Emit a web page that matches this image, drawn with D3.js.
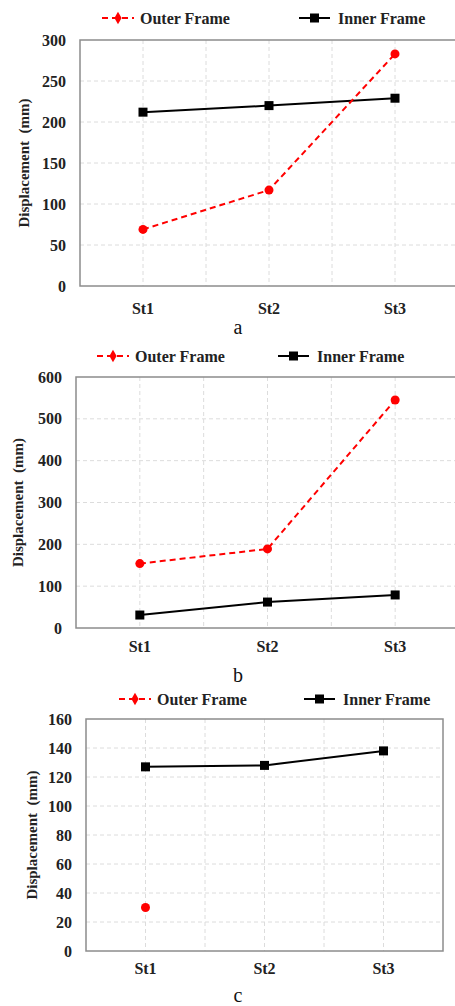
<!DOCTYPE html>
<html><head><meta charset="utf-8">
<script src="https://cdn.jsdelivr.net/npm/d3@7"></script>
<style>
html,body{margin:0;padding:0;background:#fff;}
svg{display:block;}
</style></head>
<body>
<svg id="chart" width="455" height="1006"></svg>
<script>
const categories = ["St1","St2","St3"];
const seriesNames = ["Outer Frame","Inner Frame"];
// panel a
const outerA = [69, 117, 283];
const innerA = [212, 220, 229];
const ticksA = [0, 50, 100, 150, 200, 250, 300];
// panel b
const outerB = [154, 189, 545];
const innerB = [31, 62, 79];
const ticksB = [0, 100, 200, 300, 400, 500, 600];
// panel c
const outerC = [30, null, null];
const innerC = [127, 128, 138];
const ticksC = [0, 20, 40, 60, 80, 100, 120, 140, 160];
const panelLabels = ["a","b","c"];
const yTitle = "Displacement  (mm)";

const FONT = "'Liberation Serif', 'Times New Roman', 'DejaVu Serif', serif";

const panels = [
  {outer: outerA, inner: innerA, ticks: ticksA, label: panelLabels[0],
   left: 80, right: 458, top: 40, bottom: 286, tickX: 66, titleX: 24,
   legY: 18, leg1: 102, leg2: 299, xLabY: 310, labY: 327},
  {outer: outerB, inner: innerB, ticks: ticksB, label: panelLabels[1],
   left: 76, right: 459, top: 377, bottom: 628, tickX: 62, titleX: 18,
   legY: 356, leg1: 97, leg2: 278, xLabY: 648, labY: 675},
  {outer: outerC, inner: innerC, ticks: ticksC, label: panelLabels[2],
   left: 86, right: 443, top: 719, bottom: 951, tickX: 72, titleX: 32,
   legY: 699, leg1: 119, leg2: 304, xLabY: 970, labY: 995}
];

const svg = d3.select("#chart");
const red = "#ff0000";

function txt(sel, size, bold) {
  return sel.style("font-family", FONT).style("font-size", size + "px")
    .style("font-weight", bold ? "bold" : "normal");
}

panels.forEach(p => {
  const g = svg.append("g");
  const x = d3.scaleBand().domain(categories).range([p.left, p.right]).padding(0);
  const y = d3.scaleLinear().domain([p.ticks[0], p.ticks[p.ticks.length-1]]).range([p.bottom, p.top]);

  // horizontal grid
  g.append("g").selectAll("line").data(p.ticks.slice(1, -1)).join("line")
    .attr("x1", p.left).attr("x2", p.right)
    .attr("y1", d => y(d)).attr("y2", d => y(d))
    .attr("stroke", "#dcdcdc").attr("stroke-width", 1).attr("stroke-dasharray", "4,3");
  // vertical grid: band centers and boundaries
  const vx = [];
  categories.forEach((c, i) => {
    vx.push(x(c) + x.bandwidth() / 2);
    if (i > 0) vx.push(x(c));
  });
  g.append("g").selectAll("line").data(vx).join("line")
    .attr("x1", d => d).attr("x2", d => d)
    .attr("y1", p.top).attr("y2", p.bottom)
    .attr("stroke", "#dcdcdc").attr("stroke-width", 1).attr("stroke-dasharray", "4,3");

  // frame
  g.append("rect").attr("x", p.left).attr("y", p.top)
    .attr("width", p.right - p.left).attr("height", p.bottom - p.top)
    .attr("fill", "none").attr("stroke", "#8c8c8c").attr("stroke-width", 1.5);

  // y axis tick labels
  const yAxis = d3.axisLeft(y).tickValues(p.ticks).tickSize(0).tickPadding(0);
  const ya = g.append("g").attr("transform", `translate(${p.tickX},0)`).call(yAxis);
  ya.select(".domain").remove();
  txt(ya.selectAll("text"), 16, true).attr("fill", "#222");

  // x axis labels
  const xAxis = d3.axisBottom(x).tickSize(0).tickPadding(0);
  const xa = g.append("g").attr("transform", `translate(0,${p.xLabY - 7})`).call(xAxis);
  xa.select(".domain").remove();
  txt(xa.selectAll("text"), 16, true).attr("fill", "#222");

  // y title
  txt(g.append("text"), 15, true)
    .attr("transform", `translate(${p.titleX},${(p.top + p.bottom) / 2}) rotate(-90)`)
    .attr("text-anchor", "middle").attr("dominant-baseline", "central")
    .attr("fill", "#222").style("white-space", "pre")
    .text(yTitle);

  const cx = c => x(c) + x.bandwidth() / 2;

  // inner line
  const innerPts = categories.map((c, i) => ({c, v: p.inner[i]})).filter(d => d.v != null);
  const line = d3.line().x(d => cx(d.c)).y(d => y(d.v));
  g.append("path").datum(innerPts).attr("d", line)
    .attr("fill", "none").attr("stroke", "#000").attr("stroke-width", 2);
  g.append("g").selectAll("rect").data(innerPts).join("rect")
    .attr("x", d => cx(d.c) - 4.5).attr("y", d => y(d.v) - 4.5)
    .attr("width", 9).attr("height", 9).attr("fill", "#000");

  // outer line
  const outerPts = categories.map((c, i) => ({c, v: p.outer[i]})).filter(d => d.v != null);
  if (outerPts.length > 1) {
    g.append("path").datum(outerPts).attr("d", line)
      .attr("fill", "none").attr("stroke", red).attr("stroke-width", 2)
      .attr("stroke-dasharray", "6,4");
  }
  g.append("g").selectAll("circle").data(outerPts).join("circle")
    .attr("cx", d => cx(d.c)).attr("cy", d => y(d.v)).attr("r", 4.5).attr("fill", red);

  // legend
  const lg = g.append("g");
  lg.append("line").attr("x1", p.leg1).attr("x2", p.leg1 + 32)
    .attr("y1", p.legY).attr("y2", p.legY)
    .attr("stroke", red).attr("stroke-width", 2).attr("stroke-dasharray", "6,4");
  lg.append("path").attr("d", d3.symbol(d3.symbolDiamond, 45)())
    .attr("transform", `translate(${p.leg1 + 16},${p.legY})`).attr("fill", red);
  txt(lg.append("text"), 16, true).attr("x", p.leg1 + 38).attr("y", p.legY)
    .attr("dominant-baseline", "central").attr("fill", "#222").text(seriesNames[0]);
  lg.append("line").attr("x1", p.leg2).attr("x2", p.leg2 + 31)
    .attr("y1", p.legY).attr("y2", p.legY)
    .attr("stroke", "#000").attr("stroke-width", 2);
  lg.append("rect").attr("x", p.leg2 + 11).attr("y", p.legY - 4.5)
    .attr("width", 9).attr("height", 9).attr("fill", "#000");
  txt(lg.append("text"), 16, true).attr("x", p.leg2 + 39).attr("y", p.legY)
    .attr("dominant-baseline", "central").attr("fill", "#222").text(seriesNames[1]);

  // panel label
  txt(g.append("text"), 20, false).attr("x", 238).attr("y", p.labY)
    .attr("text-anchor", "middle").attr("dominant-baseline", "central")
    .attr("fill", "#111").text(p.label);
});
</script>
</body></html>
